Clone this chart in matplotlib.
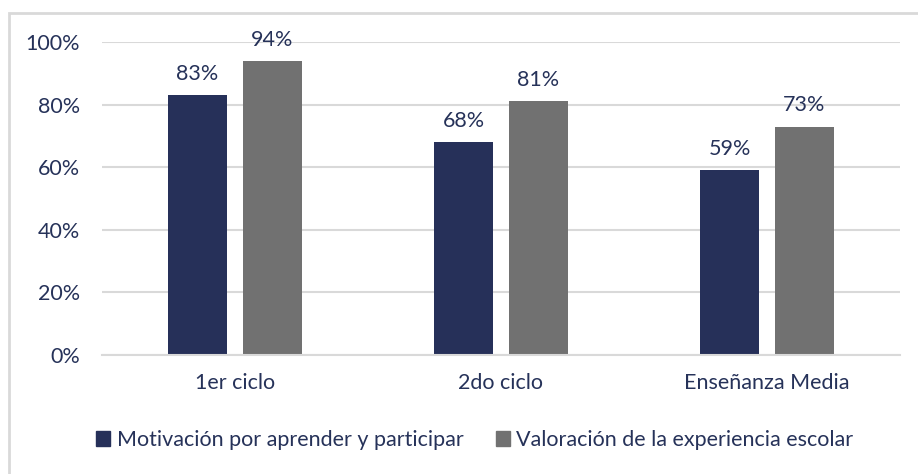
import numpy as np
import matplotlib
matplotlib.use("Agg")
import matplotlib.pyplot as plt
from matplotlib.patches import Patch, Rectangle

categorias = ["1er ciclo", "2do ciclo", "Enseñanza Media"]
motivacion = [83, 68, 59]
valoracion = [94, 81, 73]
series = ["Motivación por aprender y participar", "Valoración de la experiencia escolar"]

navy = "#263059"
gris = "#717171"
txt = "#263259"

plt.rcParams['font.family'] = ['Lato', 'DejaVu Sans']

fig = plt.figure(figsize=(9.18, 4.74), dpi=100)
ax = fig.add_axes([102/918, 1-355/474, 798/918, 313/474])

x = np.arange(len(categorias))
w = 0.222
off = 0.141
b1 = ax.bar(x - off, motivacion, w, color=navy)
b2 = ax.bar(x + off, valoracion, w, color=gris)

for bars, vals in ((b1, motivacion), (b2, valoracion)):
    for b, v in zip(bars, vals):
        ax.annotate(f"{v}%", (b.get_x() + b.get_width()/2, v), xytext=(0, 8),
                    textcoords="offset points", ha="center", va="bottom",
                    fontsize=15.5, color=txt)

ax.set_xlim(-0.5, 2.5)
ax.set_ylim(0, 100)
ax.set_yticks(range(0, 101, 20))
ax.set_yticklabels([f"{t}%" for t in range(0, 101, 20)])
ax.set_xticks(x)
ax.set_xticklabels(categorias)
ax.tick_params(axis='both', length=0, labelsize=15.5, colors=txt)
ax.tick_params(axis='y', pad=16)
ax.tick_params(axis='x', pad=13)
ax.grid(axis='y', color="#d9d9d9", lw=1.5)
ax.set_axisbelow(True)
for s in ("top", "right", "left"):
    ax.spines[s].set_visible(False)
ax.spines["bottom"].set_color("#d9d9d9")
ax.spines["bottom"].set_linewidth(1.5)

handles = [Patch(color=navy), Patch(color=gris)]
fig.legend(handles, series, loc="center", bbox_to_anchor=(475/918, 1-440/474),
           ncol=2, frameon=False, fontsize=15.5, handlelength=0.65, handleheight=0.65,
           handletextpad=0.3, columnspacing=1.5, labelcolor=txt)

fig.patches.append(Rectangle((9/918, -0.05), 1.1, 1.05 - 13/474, transform=fig.transFigure,
                             fill=False, edgecolor="#d9d9d9", lw=2))

fig.savefig("out.png", dpi=100)
